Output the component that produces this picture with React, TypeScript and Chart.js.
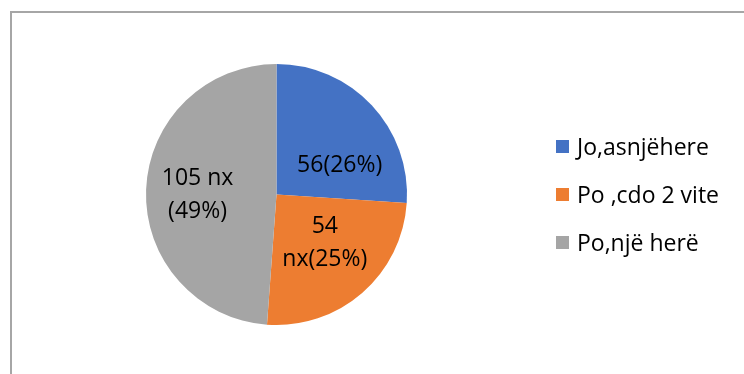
import React, { useEffect, useRef } from "react";
import { Chart, ArcElement, PieController } from "chart.js";

Chart.register(ArcElement, PieController);

// Survey answers and how many respondents gave each one
const categories = ["Jo,asnjëhere", "Po ,cdo 2 vite", "Po,një herë"];
const counts = [56, 54, 105];
const sliceColors = ["#4472C4", "#ED7D31", "#A5A5A5"];
// Text shown on each slice: {v} = count, {p} = rounded share of the total
const labelFormats = ["{v}({p}%)", "{v}\nnx({p}%)", "{v} nx\n({p}%)"];

const FONT = "'Open Sans', 'Noto Sans', sans-serif";

// Where each slice label sits: fraction along the slice's sweep and fraction of the radius
const labelPlacement = [
  { along: 0.68, radial: 0.54 },
  { along: 0.443, radial: 0.513 },
  { along: 0.494, radial: 0.605 },
];

const sliceLabels = {
  id: "sliceLabels",
  afterDatasetsDraw(chart: any) {
    const ctx: CanvasRenderingContext2D = chart.ctx;
    const meta = chart.getDatasetMeta(0);
    const data = chart.data.datasets[0].data as number[];
    const total = data.reduce((a, b) => a + b, 0);
    const size = 23;
    const lineHeight = 33;
    ctx.save();
    ctx.font = `${size}px ${FONT}`;
    ctx.fillStyle = "#000000";
    ctx.textAlign = "center";
    ctx.textBaseline = "alphabetic";
    meta.data.forEach((arc: any, i: number) => {
      const { x, y, startAngle, endAngle, outerRadius } = arc.getProps(
        ["x", "y", "startAngle", "endAngle", "outerRadius"],
        true
      );
      const place = labelPlacement[i];
      const a = startAngle + (endAngle - startAngle) * place.along;
      const r = outerRadius * place.radial;
      const cx = x + Math.cos(a) * r;
      const cy = y + Math.sin(a) * r;
      const pct = Math.round((data[i] / total) * 100);
      const lines = labelFormats[i]
        .replace("{v}", String(data[i]))
        .replace("{p}", String(pct))
        .split("\n");
      lines.forEach((ln, k) => {
        const mid = cy + (k - (lines.length - 1) / 2) * lineHeight;
        ctx.fillText(ln, cx, mid + size * 0.357);
      });
    });
    ctx.restore();
  },
};

// Legend on the right: square swatch plus category name, rows centred on the pie
const sideLegend = {
  id: "sideLegend",
  afterDraw(chart: any) {
    const ctx: CanvasRenderingContext2D = chart.ctx;
    const labels = chart.data.labels as string[];
    const colors = chart.data.datasets[0].backgroundColor as string[];
    const area = chart.chartArea;
    const centerY = (area.top + area.bottom) / 2;
    const boxX = 556;
    const box = 13;
    const spacing = 48;
    const size = 23;
    ctx.save();
    ctx.font = `${size}px ${FONT}`;
    ctx.textAlign = "left";
    ctx.textBaseline = "alphabetic";
    labels.forEach((lab, i) => {
      const rowY = centerY + (i - (labels.length - 1) / 2) * spacing;
      ctx.fillStyle = colors[i];
      ctx.fillRect(boxX, rowY - box / 2, box, box);
      ctx.fillStyle = "#000000";
      ctx.fillText(lab, boxX + box + 8, rowY + size * 0.357);
    });
    ctx.restore();
  },
};

function PieChart() {
  const ref = useRef<HTMLCanvasElement | null>(null);
  useEffect(() => {
    if (!ref.current) return;
    const chart = new Chart(ref.current, {
      type: "pie",
      data: {
        labels: categories,
        datasets: [
          {
            data: counts,
            backgroundColor: sliceColors,
            borderWidth: 0,
          },
        ],
      },
      options: {
        responsive: false,
        animation: false,
        devicePixelRatio: 1,
        layout: { padding: { left: 146, right: 337, top: 64, bottom: 49 } },
        plugins: {
          legend: { display: false },
          tooltip: { enabled: false },
        },
      },
      plugins: [sliceLabels, sideLegend],
    });
    return () => chart.destroy();
  }, []);
  return (
    <canvas
      ref={ref}
      width={744}
      height={374}
      style={{ position: "absolute", left: 0, top: 0, width: 744, height: 374 }}
    />
  );
}

export default function App() {
  return (
    <div
      style={{
        position: "fixed",
        left: 0,
        top: 0,
        width: 744,
        height: 374,
        background: "#ffffff",
        overflow: "hidden",
      }}
    >
      <div
        style={{
          position: "absolute",
          left: 10,
          top: 11,
          width: 800,
          height: 420,
          borderTop: "2px solid #a6a6a6",
          borderLeft: "2px solid #a6a6a6",
        }}
      />
      <PieChart />
    </div>
  );
}
